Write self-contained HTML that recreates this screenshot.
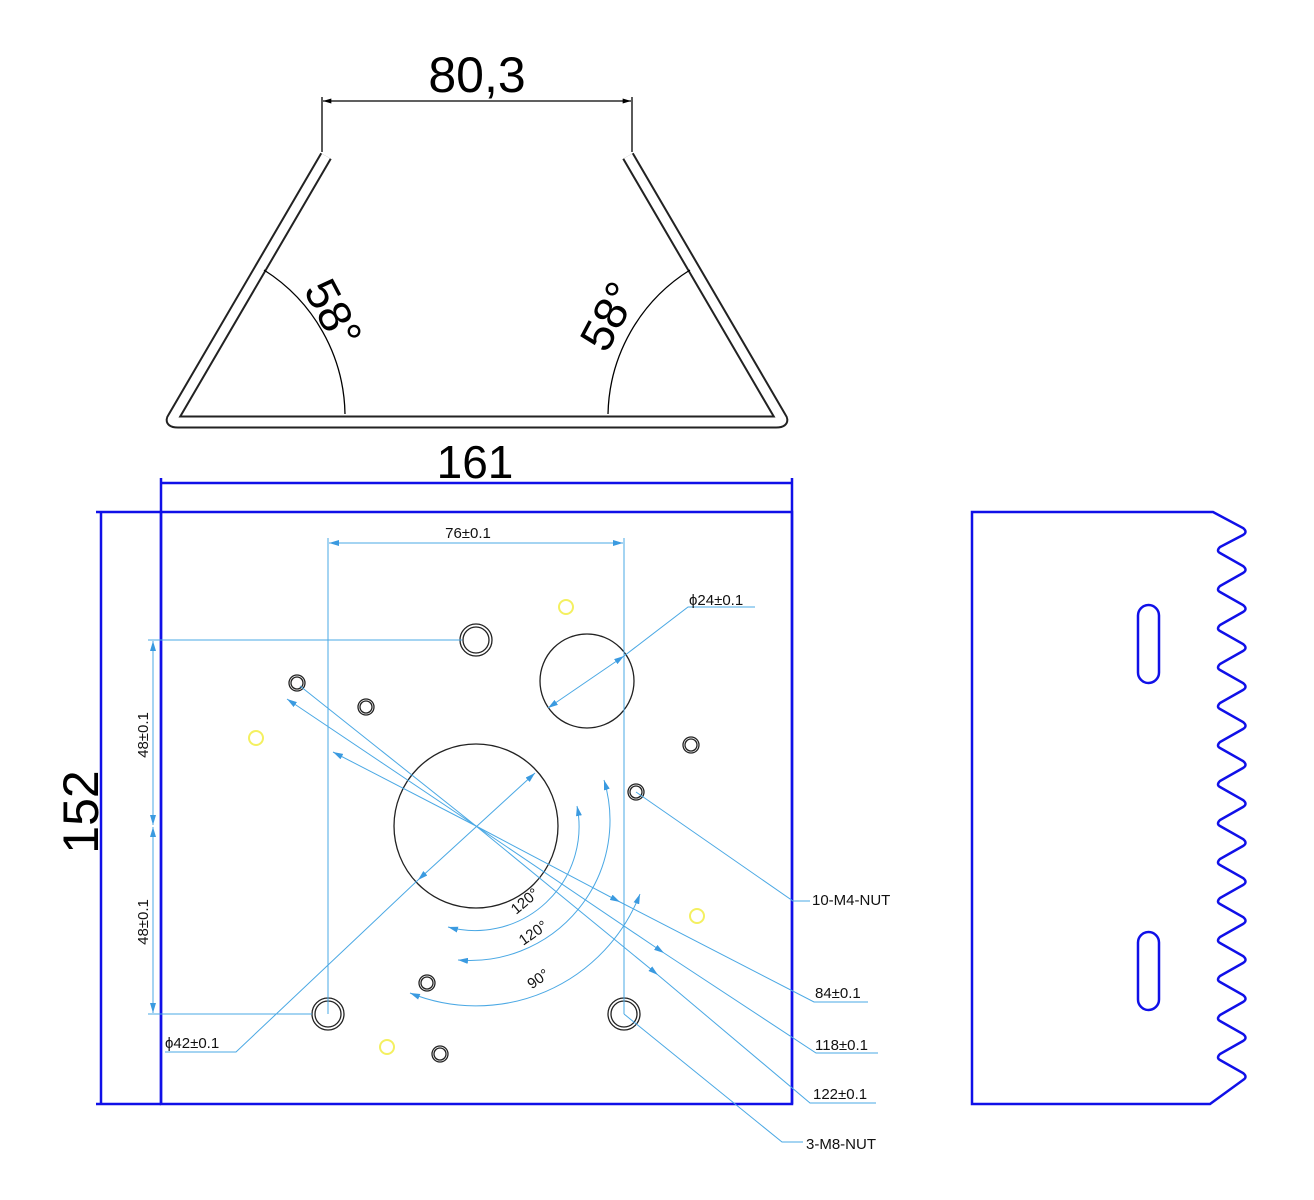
<!DOCTYPE html>
<html><head><meta charset="utf-8"><style>html,body{margin:0;padding:0;background:#fff}svg{display:block}</style></head>
<body>
<svg width="1314" height="1200" viewBox="0 0 1314 1200" xmlns="http://www.w3.org/2000/svg" font-family="Liberation Sans, DejaVu Sans, sans-serif">
<defs>
<marker id="a" viewBox="0 0 10 6" refX="10" refY="3" markerWidth="10" markerHeight="6" orient="auto-start-reverse" markerUnits="userSpaceOnUse"><path d="M0,0L10,3L0,6z" fill="#3a9ae0"/></marker>
<marker id="k" viewBox="0 0 10 6" refX="10" refY="3" markerWidth="10" markerHeight="5" orient="auto-start-reverse" markerUnits="userSpaceOnUse"><path d="M0,0L10,3L0,6z" fill="#000"/></marker>
</defs>
<!-- top view -->
<path d="M326,156 L173,418 Q170,422 178,422 L776,422 Q784,422 781,418 L628,156" fill="none" stroke="#222" stroke-width="13" stroke-linejoin="round"/>
<path d="M326,156 L173,418 Q170,422 178,422 L776,422 Q784,422 781,418 L628,156" fill="none" stroke="#fff" stroke-width="9" stroke-linejoin="round"/>
<line x1="322" y1="97" x2="322" y2="152" stroke="#000" stroke-width="1.3"/>
<line x1="632" y1="97" x2="632" y2="152" stroke="#000" stroke-width="1.3"/>
<line x1="323" y1="101" x2="631" y2="101" stroke="#000" stroke-width="1.3" marker-start="url(#k)" marker-end="url(#k)"/>
<text x="477" y="92" font-size="50" text-anchor="middle">80,3</text>
<path d="M264,270 A174,174 0 0 1 345,414" fill="none" stroke="#000" stroke-width="1.3"/>
<path d="M690,270 A174,174 0 0 0 608,414" fill="none" stroke="#000" stroke-width="1.3"/>
<text transform="translate(330,315) rotate(62)" font-size="46" text-anchor="middle" dominant-baseline="middle">58°</text>
<text transform="translate(612,318) rotate(-62)" font-size="46" text-anchor="middle" dominant-baseline="middle">58°</text>
<text x="475" y="478" font-size="46" text-anchor="middle">161</text>
<!-- blue outlines -->
<g stroke="#1010e8" stroke-width="2.5" fill="none">
<line x1="161" y1="478" x2="161" y2="1104"/>
<line x1="792" y1="478" x2="792" y2="1104"/>
<line x1="161" y1="483" x2="792" y2="483"/>
<rect x="161" y="512" width="631" height="592"/>
<line x1="96" y1="512" x2="161" y2="512"/>
<line x1="96" y1="1104" x2="161" y2="1104"/>
<line x1="101" y1="512" x2="101" y2="1104"/>
<path d="M972,512 L1213,512 L1243,528 Q1248,532 1243,535 L1220,547 Q1216,551 1220,553 L1243,566 Q1248,570 1243,573 L1220,586 Q1216,590 1220,592 L1243,605 Q1248,609 1243,612 L1220,625 Q1216,629 1220,631 L1243,644 Q1248,648 1243,651 L1220,664 Q1216,668 1220,670 L1243,683 Q1248,687 1243,690 L1220,703 Q1216,707 1220,709 L1243,722 Q1248,726 1243,729 L1220,742 Q1216,746 1220,748 L1243,761 Q1248,765 1243,768 L1220,781 Q1216,785 1220,787 L1243,800 Q1248,804 1243,807 L1220,820 Q1216,824 1220,826 L1243,839 Q1248,843 1243,846 L1220,859 Q1216,863 1220,865 L1243,878 Q1248,882 1243,885 L1220,898 Q1216,902 1220,904 L1243,917 Q1248,921 1243,924 L1220,937 Q1216,941 1220,943 L1243,956 Q1248,960 1243,963 L1220,976 Q1216,980 1220,982 L1243,995 Q1248,999 1243,1002 L1220,1015 Q1216,1019 1220,1021 L1243,1034 Q1248,1038 1243,1041 L1220,1054 Q1216,1058 1220,1060 L1243,1073 Q1248,1077 1243,1080 L1210,1104 L972,1104 Z"/>
<rect x="1138" y="605" width="21" height="78" rx="10.5"/>
<rect x="1138" y="932" width="21" height="78" rx="10.5"/>
</g>
<text transform="translate(98,812) rotate(-90)" font-size="50" text-anchor="middle">152</text>
<!-- holes -->
<g fill="none" stroke="#222" stroke-width="1.3">
<circle cx="476" cy="826" r="82"/>
<circle cx="587" cy="681" r="47"/>
<circle cx="476" cy="640" r="16"/><circle cx="476" cy="640" r="13"/>
<circle cx="328" cy="1014" r="16"/><circle cx="328" cy="1014" r="13"/>
<circle cx="624" cy="1014" r="16"/><circle cx="624" cy="1014" r="13"/>
<circle cx="297" cy="683" r="8"/><circle cx="297" cy="683" r="6"/>
<circle cx="366" cy="707" r="8"/><circle cx="366" cy="707" r="6"/>
<circle cx="691" cy="745" r="8"/><circle cx="691" cy="745" r="6"/>
<circle cx="636" cy="792" r="8"/><circle cx="636" cy="792" r="6"/>
<circle cx="427" cy="983" r="8"/><circle cx="427" cy="983" r="6"/>
<circle cx="440" cy="1054" r="8"/><circle cx="440" cy="1054" r="6"/>
</g>
<g fill="none" stroke="#f4f060" stroke-width="2">
<circle cx="566" cy="607" r="7"/><circle cx="256" cy="738" r="7"/><circle cx="697" cy="916" r="7"/><circle cx="387" cy="1047" r="7"/>
</g>
<!-- light blue dims -->
<g stroke="#4aa8e4" stroke-width="1" fill="none">
<line x1="328" y1="538" x2="328" y2="1014"/>
<line x1="624" y1="538" x2="624" y2="1014"/>
<line x1="329" y1="543" x2="623" y2="543" marker-start="url(#a)" marker-end="url(#a)"/>
<line x1="148" y1="640" x2="462" y2="640"/>
<line x1="148" y1="1014" x2="312" y2="1014"/>
<line x1="153" y1="641" x2="153" y2="825" marker-start="url(#a)" marker-end="url(#a)"/>
<line x1="153" y1="827" x2="153" y2="1013" marker-start="url(#a)" marker-end="url(#a)"/>
<line x1="548" y1="708" x2="624" y2="656" marker-start="url(#a)" marker-end="url(#a)"/>
<polyline points="624,656 688,607 755,607"/>
<line x1="535" y1="773" x2="418" y2="880" marker-start="url(#a)" marker-end="url(#a)"/>
<polyline points="418,880 236,1052 165,1052"/>
<line x1="476" y1="826" x2="333" y2="752" marker-end="url(#a)"/>
<line x1="476" y1="826" x2="620" y2="902" marker-end="url(#a)"/>
<polyline points="620,902 814,1002 868,1002"/>
<line x1="476" y1="826" x2="287" y2="699" marker-end="url(#a)"/>
<line x1="476" y1="826" x2="664" y2="953" marker-end="url(#a)"/>
<polyline points="664,953 816,1053 878,1053"/>
<line x1="476" y1="826" x2="300" y2="686"/>
<line x1="476" y1="826" x2="658" y2="975" marker-end="url(#a)"/>
<polyline points="658,975 810,1103 876,1103"/>
<path d="M448,927 A104,104 0 0 0 577,806" marker-start="url(#a)" marker-end="url(#a)"/>
<path d="M458,960 A140,140 0 0 0 604,780" marker-start="url(#a)" marker-end="url(#a)"/>
<path d="M410,993 A176,176 0 0 0 640,894" marker-start="url(#a)" marker-end="url(#a)"/>
<polyline points="636,792 793,901 810,901"/>
<polyline points="624,1014 782,1142 803,1142"/>
</g>
<g font-size="15" fill="#111">
<text x="468" y="538" text-anchor="middle">76±0.1</text>
<text x="689" y="605">ϕ24±0.1</text>
<text x="165" y="1048">ϕ42±0.1</text>
<text transform="translate(148,735) rotate(-90)" text-anchor="middle">48±0.1</text>
<text transform="translate(148,922) rotate(-90)" text-anchor="middle">48±0.1</text>
<text transform="translate(528,905) rotate(-40)" text-anchor="middle">120°</text>
<text transform="translate(536,937) rotate(-35)" text-anchor="middle">120°</text>
<text transform="translate(541,983) rotate(-35)" text-anchor="middle">90°</text>
<text x="812" y="905">10-M4-NUT</text>
<text x="815" y="998">84±0.1</text>
<text x="815" y="1050">118±0.1</text>
<text x="813" y="1099">122±0.1</text>
<text x="806" y="1149">3-M8-NUT</text>
</g>
</svg>
</body></html>
